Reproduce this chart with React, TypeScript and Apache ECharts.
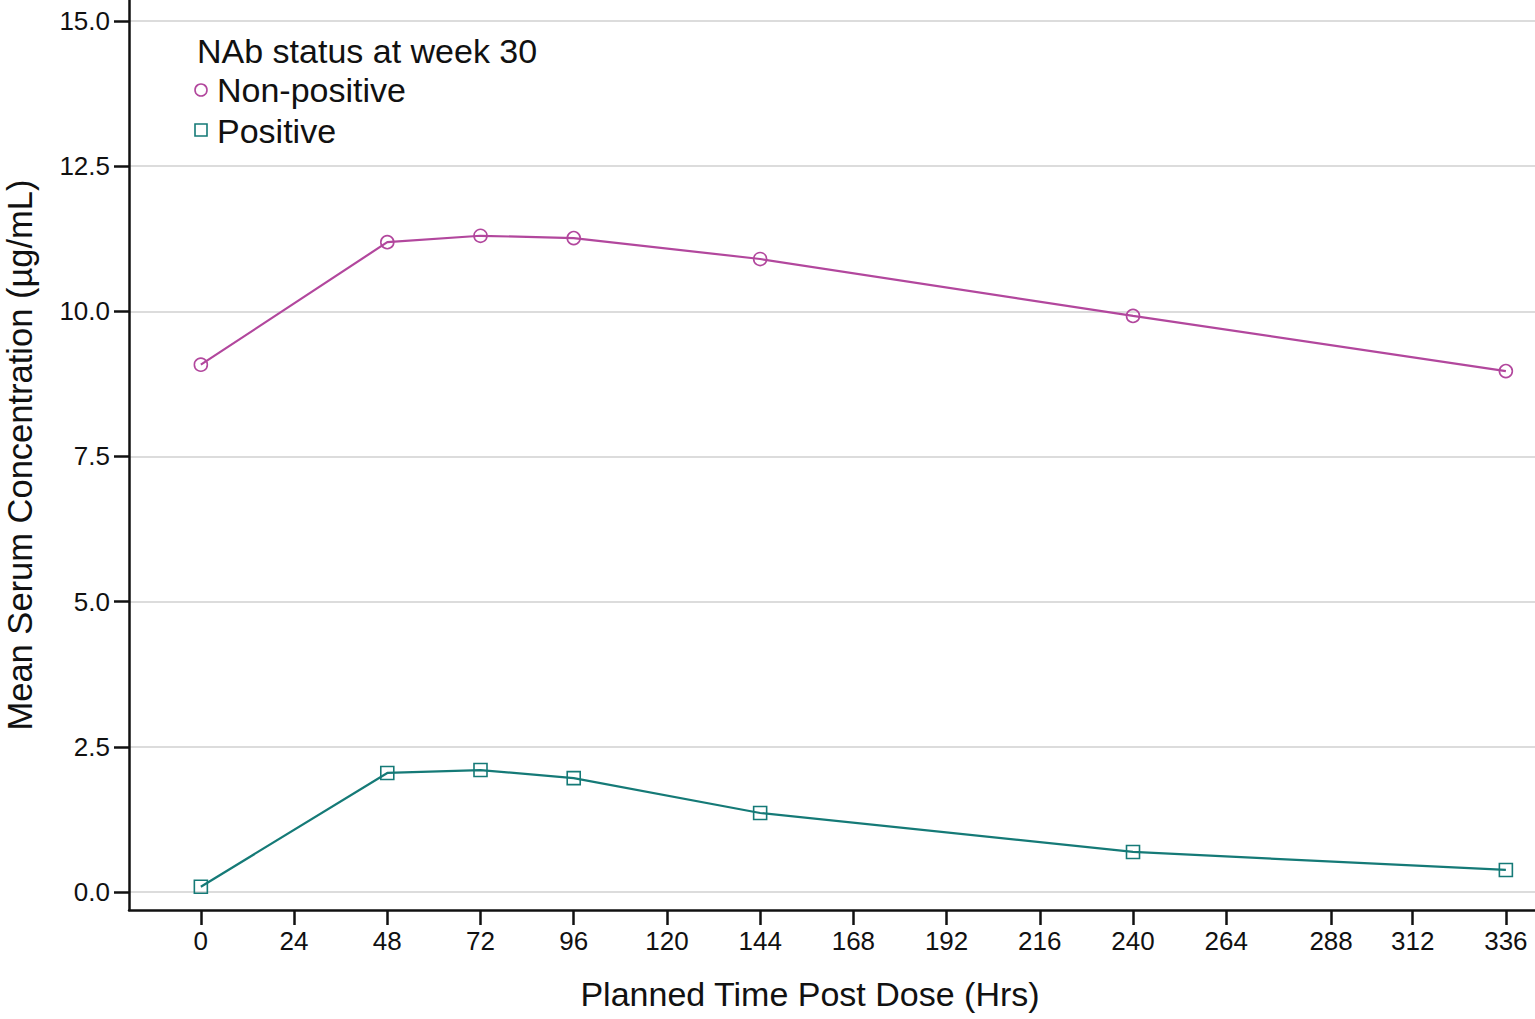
import React, { useEffect, useRef } from "react";
import * as echarts from "echarts";

const hours = [0, 48, 72, 96, 144, 240, 336];
const nonPositive = [9.08, 11.19, 11.3, 11.26, 10.9, 9.92, 8.97];
const positive = [0.09, 2.05, 2.1, 1.96, 1.36, 0.69, 0.38];

const xTickValues = [0, 24, 48, 72, 96, 120, 144, 168, 192, 216, 240, 264, 291, 312, 336];
const xTickLabels = ["0", "24", "48", "72", "96", "120", "144", "168", "192", "216", "240", "264", "288", "312", "336"];
const yTickValues = [0, 2.5, 5, 7.5, 10, 12.5, 15];
const yTickLabels = ["0.0", "2.5", "5.0", "7.5", "10.0", "12.5", "15.0"];

const legendTitle = "NAb status at week 30";
const seriesNames = ["Non-positive", "Positive"];
const colors = ["#B2479D", "#157A77"];

const FONT = "'Liberation Sans', Arial, Helvetica, sans-serif";

function lookup(values: number[], labels: string[], v: number): string {
  for (let i = 0; i < values.length; i++) {
    if (Math.abs(values[i] - v) < 1e-6) return labels[i];
  }
  return "";
}

export default function App() {
  const ref = useRef<HTMLDivElement>(null);
  useEffect(() => {
    if (!ref.current) return;
    const chart = echarts.init(ref.current, undefined, { renderer: "svg" });
    const axisColor = "#111111";
    const option: any = {
      animation: false,
      backgroundColor: "#ffffff",
      textStyle: { fontFamily: FONT },
      grid: { left: 129, right: 0, top: 0, bottom: 109, containLabel: false, outerBoundsMode: "none" },
      xAxis: {
        type: "value",
        min: -18.5,
        max: 343.5,
        name: "Planned Time Post Dose (Hrs)",
        nameLocation: "middle",
        nameGap: 67,
        nameTextStyle: { fontSize: 34, color: "#111", fontFamily: FONT, padding: [0, 44, 0, 0] },
        axisLine: { show: true, onZero: false, lineStyle: { color: axisColor, width: 2.5 } },
        axisTick: { show: true, inside: false, length: 15, customValues: xTickValues, lineStyle: { color: axisColor, width: 2.5 } },
        axisLabel: {
          customValues: xTickValues,
          margin: 18,
          fontSize: 26,
          color: "#111",
          fontFamily: FONT,
          formatter: (v: number) => lookup(xTickValues, xTickLabels, v),
        },
        splitLine: { show: false },
      },
      yAxis: {
        type: "value",
        min: -0.31,
        max: 15.36,
        name: "Mean Serum Concentration (µg/mL)",
        nameLocation: "middle",
        nameGap: 92,
        nameTextStyle: { fontSize: 34.5, color: "#111", fontFamily: FONT },
        axisLine: { show: true, onZero: false, lineStyle: { color: axisColor, width: 2.5 } },
        axisTick: { show: true, inside: false, length: 15, customValues: yTickValues, lineStyle: { color: axisColor, width: 2.5 } },
        axisLabel: {
          customValues: yTickValues,
          margin: 19,
          fontSize: 26,
          color: "#111",
          fontFamily: FONT,
          formatter: (v: number) => lookup(yTickValues, yTickLabels, v),
        },
        splitLine: { show: true, lineStyle: { color: "#d0d0d0", width: 1.5 } },
      },
      series: [0, 1].map((k) => ({
        name: seriesNames[k],
        type: "line",
        data: hours.map((h, i) => [h, k === 0 ? nonPositive[i] : positive[i]]),
        symbol: k === 0 ? "circle" : "rect",
        symbolSize: 13,
        showSymbol: true,
        lineStyle: { color: colors[k], width: 2.2 },
        itemStyle: { color: "rgba(255,255,255,0)", borderColor: colors[k], borderWidth: 1.6 },
        z: 3,
      })),
      graphic: [
        {
          type: "text",
          left: 197,
          top: 34,
          style: { text: legendTitle, fontSize: 34, fill: "#111", fontFamily: FONT },
        },
        {
          type: "circle",
          shape: { cx: 201, cy: 90, r: 6 },
          style: { fill: "none", stroke: colors[0], lineWidth: 1.6 },
        },
        {
          type: "text",
          left: 217,
          top: 73,
          style: { text: seriesNames[0], fontSize: 34, fill: "#111", fontFamily: FONT },
        },
        {
          type: "rect",
          shape: { x: 195, y: 124, width: 12, height: 12 },
          style: { fill: "none", stroke: colors[1], lineWidth: 1.6 },
        },
        {
          type: "text",
          left: 217,
          top: 114,
          style: { text: seriesNames[1], fontSize: 34, fill: "#111", fontFamily: FONT },
        },
      ],
    };
    chart.setOption(option);
    return () => chart.dispose();
  }, []);
  return (
    <div
      ref={ref}
      style={{ position: "absolute", left: 0, top: 0, width: 1535, height: 1019, background: "#fff" }}
    />
  );
}
